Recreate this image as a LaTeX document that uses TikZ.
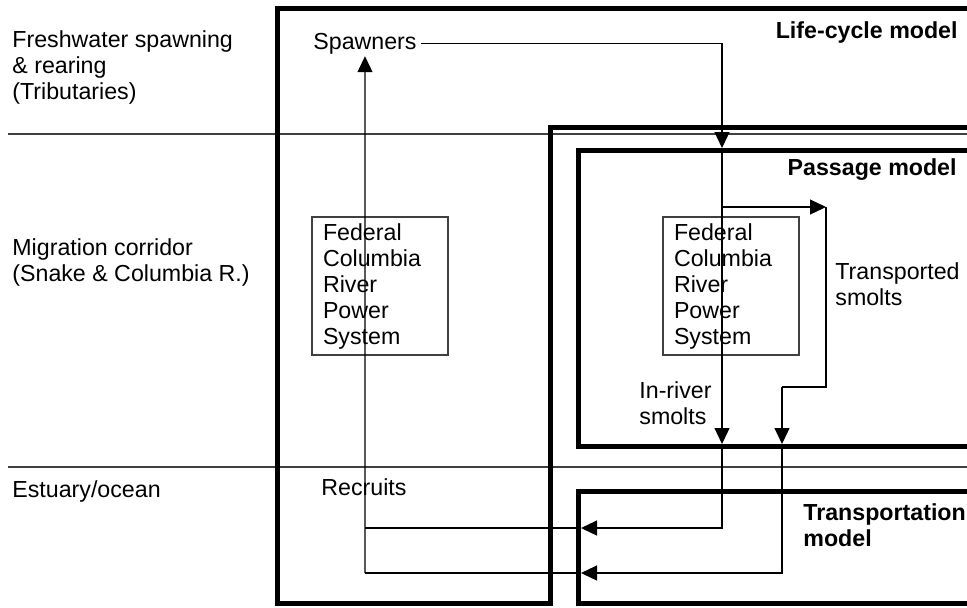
\documentclass[tikz,border=0pt]{standalone}
\usepackage{fontspec}
\setmainfont{Liberation Sans}
\usetikzlibrary{arrows.meta}

\begin{document}
\begin{tikzpicture}[x=0.5pt, y=-0.5pt,
  thickbox/.style={line width=2.5pt},
  divider/.style={black!75, line width=0.6pt},
  flow/.style={black, line width=0.6pt},
  tip/.style={-{Triangle[length=8pt,width=7.5pt]}},
  lbl/.style={inner sep=0pt, align=left, font=\fontsize{11.6}{13}\selectfont},
  title/.style={lbl, font=\fontsize{11.6}{13}\selectfont\bfseries},
  fcrps/.style={draw=black!75, line width=0.6pt, text width=57pt, align=left,
    inner xsep=5.5pt, inner ysep=0pt, minimum height=69pt,
    font=\fontsize{11.6}{13}\selectfont}]
\clip (0,0) rectangle (967,607);

% Habitat zones (base anchor = last line)
\draw[divider] (8,134) -- (967,134);
\draw[divider] (8,467) -- (967,467);
\node[lbl, anchor=base west] (fresh) at (12,99) {Freshwater spawning\\\& rearing\\(Tributaries)};
\node[lbl, anchor=base west] (corridor) at (12,281) {Migration corridor\\(Snake \& Columbia R.)};
\node[lbl, anchor=base west] (ocean) at (12,497) {Estuary/ocean};

% Model boxes
\draw[thickbox] (990,8) -- (277,8) -- (277,603) -- (550,603) -- (550,127) -- (990,127);
\draw[thickbox] (990,150) -- (578,150) -- (578,446) -- (990,446);
\draw[thickbox] (578,491) rectangle (990,603);
\node[title, anchor=base east] (lifecycle) at (958,38) {Life-cycle model};
\node[title, anchor=base east] (passage) at (957,175) {Passage model};
\node[title, anchor=base west] (transport) at (803,546) {Transportation\\model};

% Hydrosystem
\node[fcrps] (fcrpsL) at (380,286) {Federal\\Columbia\\River\\Power\\System};
\node[fcrps] (fcrpsR) at (731,286) {Federal\\Columbia\\River\\Power\\System};

% Life stages
\node[lbl, anchor=base west] (spawners) at (313,49) {Spawners};
\node[lbl, anchor=base west] (recruits) at (321,495) {Recruits};
\node[lbl, anchor=base west] (inriver) at (639,424) {In-river\\smolts};
\node[lbl, anchor=base west] (transported) at (835,305) {Transported\\smolts};

\coordinate (psgIn) at (722,148);
\coordinate (branch) at (722,207);
\coordinate (trpTop) at (826,207);
\coordinate (trpStep) at (782,387);
\coordinate (psgOut1) at (722,444);
\coordinate (psgOut2) at (782,444);
\coordinate (trsIn1) at (581,528);
\coordinate (trsIn2) at (581,573);
\coordinate (rcHigh) at (365,528);
\coordinate (rcLow) at (365,573);

% Flows
\draw[flow, tip] ([xshift=2pt]spawners.east) -| (psgIn);
\draw[flow, tip] (psgIn) -- (psgOut1);
\draw[flow, tip] (psgOut1) |- (trsIn1);
\draw[flow] (trsIn1) -- (rcHigh);
\draw[flow, tip] (branch) -- (trpTop);
\draw[flow] (trpTop) |- (trpStep);
\draw[flow, tip] (trpStep) -- (psgOut2);
\draw[flow, tip] (psgOut2) |- (trsIn2);
\draw[flow] (trsIn2) -- (rcLow);
\draw[flow, tip] (rcLow) -- ([yshift=-1pt]spawners.south);
\end{tikzpicture}
\end{document}
